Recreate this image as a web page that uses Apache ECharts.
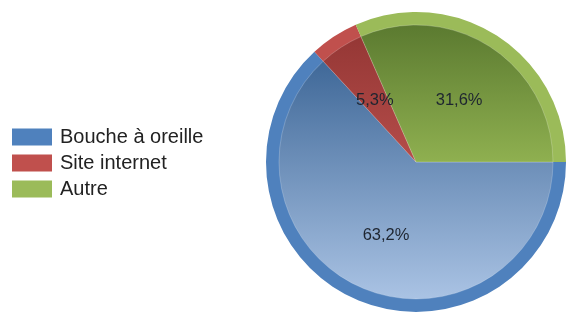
<!DOCTYPE html>
<html>
<head>
<meta charset="utf-8">
<script src="https://cdn.jsdelivr.net/npm/echarts@6/dist/echarts.min.js"></script>
<style>
  html, body { margin: 0; padding: 0; background: #fff; }
  #chart { width: 569px; height: 312px; }
</style>
</head>
<body>
<div id="chart"></div>
<script>
// données (12 / 1 / 6 réponses)
const categories = ['Bouche à oreille', 'Site internet', 'Autre'];
const values = [12, 1, 6];
const ringColors = ['#4f81bd', '#c0504d', '#9bbb59'];
const topColors = ['#3f6898', '#953735', '#5b7a30'];
const bottomColors = ['#aac3e4', '#b54d4a', '#8fb050'];

const chart = echarts.init(document.getElementById('chart'));

const center = [416, 162];

function pctLabel(p) {
    return p.percent.toFixed(1).replace('.', ',') + '%';
}

const ringData = categories.map((name, i) => ({
    name: name,
    value: values[i],
    itemStyle: { color: ringColors[i] }
}));

const innerData = categories.map((name, i) => ({
    name: name,
    value: values[i],
    itemStyle: {
        color: {
            type: 'linear', x: 0, y: 0, x2: 0, y2: 1,
            colorStops: [
                { offset: 0, color: topColors[i] },
                { offset: 1, color: bottomColors[i] }
            ]
        }
    }
}));

const labelData = categories.map((name, i) => ({
    name: name,
    value: values[i]
}));

const option = {
    animation: false,
    legend: {
        orient: 'vertical',
        left: 7,
        top: 122,
        itemWidth: 40,
        itemHeight: 17,
        itemGap: 6,
        icon: 'rect',
        selectedMode: false,
        textStyle: {
            fontFamily: 'Liberation Sans, Arial, sans-serif',
            fontSize: 20,
            color: '#222',
            padding: [0, 0, 0, 3]
        },
        data: categories.map((name, i) => ({ name: name, itemStyle: { color: ringColors[i] } }))
    },
    series: [
        {
            type: 'pie',
            center: center,
            radius: [0, 150],
            startAngle: 0,
            clockwise: true,
            silent: true,
            z: 1,
            label: { show: false },
            labelLine: { show: false },
            itemStyle: { borderWidth: 0 },
            data: ringData
        },
        {
            type: 'pie',
            center: center,
            radius: [0, 137],
            startAngle: 0,
            clockwise: true,
            silent: true,
            z: 2,
            label: { show: false },
            labelLine: { show: false },
            itemStyle: { borderWidth: 0.6, borderColor: 'rgba(255,255,255,0.35)' },
            data: innerData
        },
        {
            type: 'pie',
            center: [417, 165],
            radius: [0, 148],
            startAngle: 0,
            clockwise: true,
            silent: true,
            z: 3,
            itemStyle: { color: 'rgba(0,0,0,0)', borderWidth: 0 },
            label: {
                show: true,
                position: 'inside',
                formatter: pctLabel,
                fontFamily: 'Liberation Sans, Arial, sans-serif',
                fontSize: 16.5,
                color: '#1e2530'
            },
            labelLine: { show: false },
            data: labelData
        }
    ]
};

chart.setOption(option);
</script>
</body>
</html>
